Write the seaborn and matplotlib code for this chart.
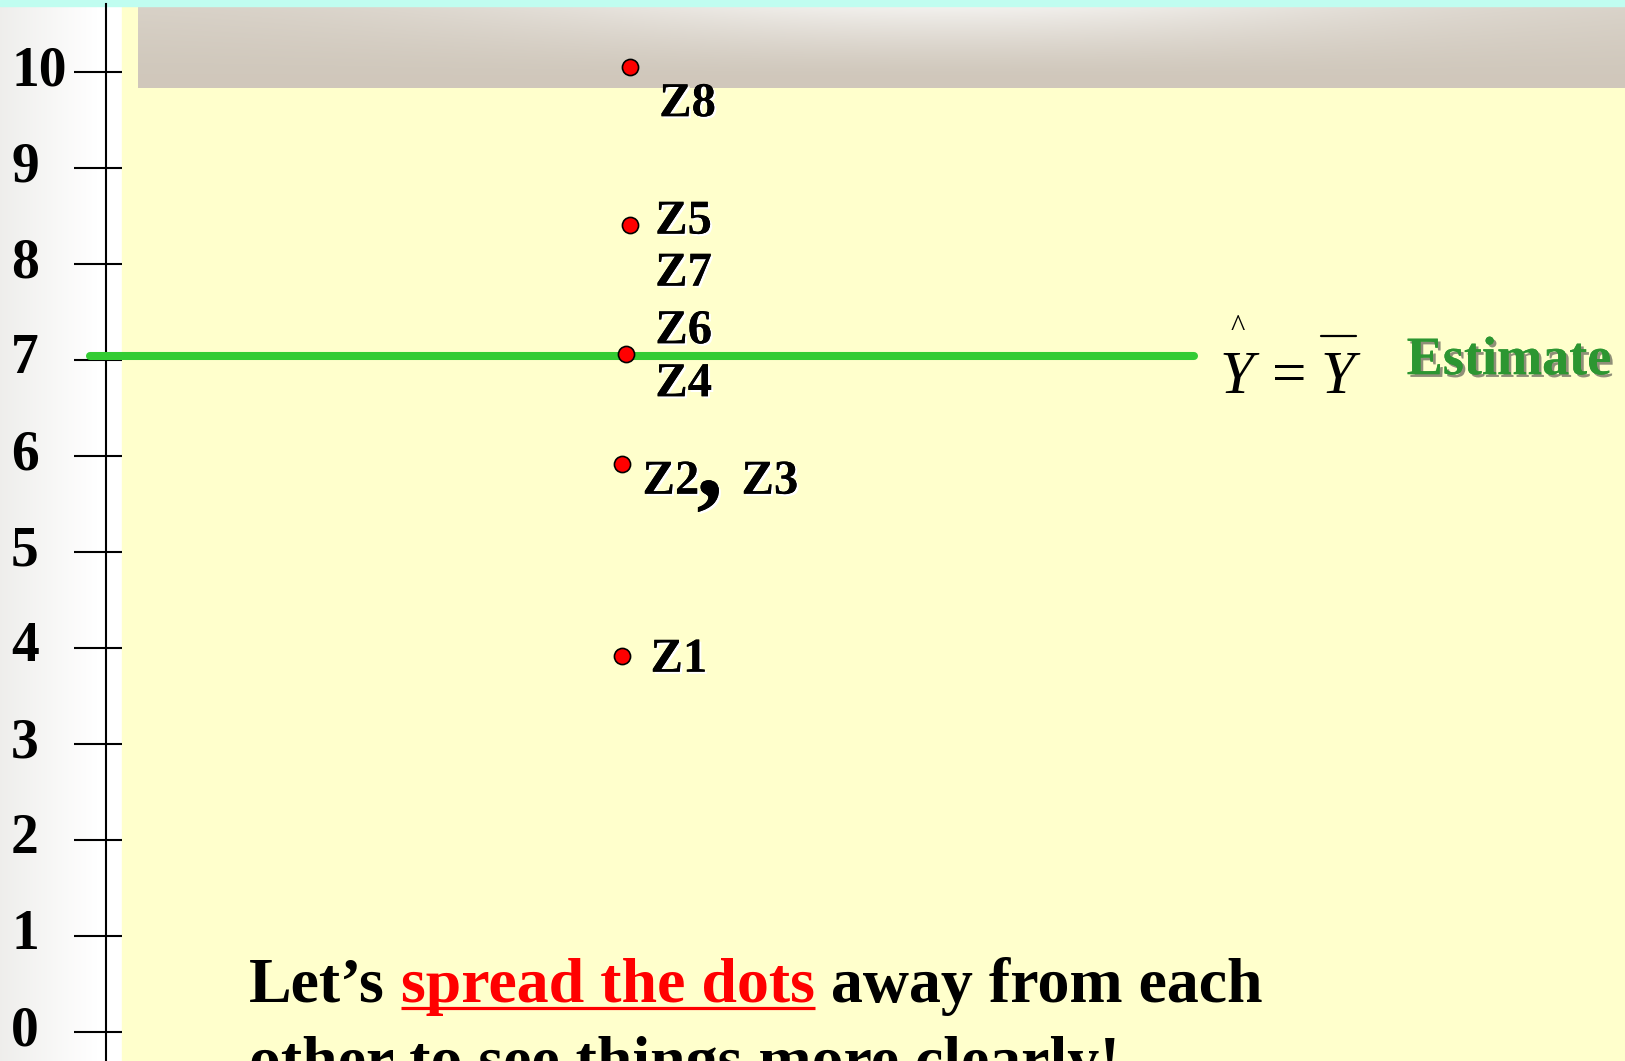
import numpy as np
import matplotlib
matplotlib.use("Agg")
import matplotlib.pyplot as plt
import matplotlib.patheffects as pe
from matplotlib.patches import Rectangle
import seaborn as sns

# ---- data -------------------------------------------------------------
dot_x = [5.37, 5.37, 5.42, 5.46, 5.46]
dot_y = [3.92, 5.92, 7.06, 8.41, 10.05]

label_text = ["Z1", "Z2", "Z3", "Z4", "Z6", "Z5", "Z7", "Z8"]
label_dot = [0, 1, 1, 2, 2, 3, 3, 4]

y_bar = 7.04
line_x = [-0.167, 11.33]

y_ticks = list(range(0, 11))

# ---- layout / style -----------------------------------------------------
W, H = 1625, 1061
PX = 96.0          # pixels per data unit
X0_PX, Y0_PX = 106, 1032   # pixel position of data origin (from top-left)

label_offset = {   # pixel offsets of each label's baseline-left from its dot
    "Z1": (29, -16), "Z2": (21, -30), "Z3": (120, -30),
    "Z4": (29, -42), "Z6": (29, 11), "Z5": (25, -9),
    "Z7": (25, -61), "Z8": (29, -49),
}
SERIF = "Liberation Serif"

sns.set_theme(style="white")
plt.rcParams["font.family"] = [SERIF, "DejaVu Serif"]

fig = plt.figure(figsize=(W / 100, H / 100), dpi=100, facecolor="white")

# ---- slide background ---------------------------------------------------
bg = fig.add_axes([0, 0, 1, 1], zorder=0)
bg.set_xlim(0, W)
bg.set_ylim(H, 0)
bg.axis("off")

# left margin fading from light grey into white
gx = np.linspace(0, 1, 122)
fade = np.clip(gx / 0.8, 0, 1)
left_col = np.array([0.935, 0.932, 0.924])
strip = left_col[None, :] * (1 - fade[:, None]) + fade[:, None]
bg.imshow(strip[None, :, :], extent=(0, 122, H, 6), aspect="auto",
          interpolation="bilinear", zorder=0)

# pale yellow panel
bg.add_patch(Rectangle((122, 6), W - 122, H - 6, color="#ffffcc", zorder=1))

# title band with a soft highlight near the top middle
bx = np.linspace(138, W, 400)
by = np.linspace(6, 88, 60)
fx = np.exp(-((bx - 950) / 450) ** 2)
gy = np.clip(1 - (by - 6) / 70, 0, 1) ** 1.3
base = np.array([0.816, 0.784, 0.737])
light = np.array([0.952, 0.945, 0.933])
amt = (0.2 + 0.8 * fx)[None, :] * gy[:, None]
band = base[None, None, :] * (1 - amt[..., None]) + light[None, None, :] * amt[..., None]
bg.imshow(band, extent=(138, W, 88, 6), aspect="auto",
          interpolation="bilinear", zorder=2)

# thin cyan strip along the top
bg.add_patch(Rectangle((0, 0), W, 6, color="#c0fdf0", zorder=3))

# ---- main axes ----------------------------------------------------------
ax = fig.add_axes([0, 0, 1, 1], zorder=1)
ax.patch.set_alpha(0)
ax.set_xlim(-X0_PX / PX, (W - X0_PX) / PX)
ax.set_ylim(-(H - Y0_PX) / PX, Y0_PX / PX)

for side in ("top", "right", "bottom"):
    ax.spines[side].set_visible(False)
ax.spines["left"].set_position(("data", 0))
ax.spines["left"].set_bounds(-(H - Y0_PX) / PX, (Y0_PX - 4) / PX)
ax.spines["left"].set_linewidth(1.5)
ax.spines["left"].set_color("black")

ax.set_xticks([])
ax.set_yticks(y_ticks)
ax.tick_params(axis="y", length=0, labelleft=False)
ax.hlines(y_ticks, -32 / PX, 16 / PX, color="black", linewidth=1.5, zorder=3)
# left-aligned bold tick numbers
for t in y_ticks:
    ax.annotate(str(t), (0, t), xytext=(-95, -13), textcoords="offset pixels",
                fontsize=40, fontweight="bold", family=SERIF, ha="left",
                va="baseline", color="black", annotation_clip=False)

# mean (estimate) line
sns.lineplot(x=line_x, y=[y_bar, y_bar], color="#33cc33", linewidth=5.8,
             ax=ax, zorder=4)

# observations
sns.scatterplot(x=dot_x, y=dot_y, s=135, color="red", edgecolor="black",
                linewidth=1.2, ax=ax, zorder=6, legend=False)

white_shadow = [pe.withSimplePatchShadow(offset=(1.5, -1.5),
                                         shadow_rgbFace="white", alpha=1.0),
                pe.Normal()]
for lab, di in zip(label_text, label_dot):
    dx, dy = label_offset[lab]
    ax.annotate(lab, (dot_x[di], dot_y[di]), xytext=(dx, dy),
                textcoords="offset pixels", fontsize=35, fontweight="bold",
                family=SERIF, ha="left", va="baseline", color="black",
                path_effects=white_shadow, zorder=7)
# the separating comma between Z2 and Z3
ax.annotate(",", (dot_x[1], dot_y[1]), xytext=(75, -32),
            textcoords="offset pixels", fontsize=76, fontweight="bold",
            family=SERIF, ha="left", va="baseline", color="black",
            path_effects=white_shadow, zorder=7)

# estimator formula  Y-hat = Y-bar
end = (line_x[1], y_bar)
ax.annotate("Y", end, xytext=(26, -37), textcoords="offset pixels",
            fontsize=44, style="italic", family=SERIF, ha="left",
            va="baseline", color="black")
ax.annotate("^", end, xytext=(44, 20), textcoords="offset pixels",
            fontsize=22, family=SERIF, ha="center", va="baseline",
            color="black")
ax.annotate("=", end, xytext=(78, -37), textcoords="offset pixels",
            fontsize=44, family=SERIF, ha="left", va="baseline",
            color="black")
ax.annotate("Y", end, xytext=(127, -37), textcoords="offset pixels",
            fontsize=44, style="italic", family=SERIF, ha="left",
            va="baseline", color="black")
bg.plot([1321, 1356], [336, 336], color="black", linewidth=1.6, zorder=5)

ax.annotate("Estimate", end, xytext=(213, -18), textcoords="offset pixels",
            fontsize=39, fontweight="bold", family=SERIF, ha="left",
            va="baseline", color="#2c9631",
            path_effects=[pe.withSimplePatchShadow(offset=(2, -2),
                                                   shadow_rgbFace="#333333",
                                                   alpha=0.55),
                          pe.Normal()],
            zorder=7)

# ---- caption ------------------------------------------------------------
fig.canvas.draw()
renderer = fig.canvas.get_renderer()
cap_size = 46
space = 0.25 * cap_size * 100 / 72
x = 249
pieces = [("Let\u2019s", "black"), ("spread the dots", "red"),
          ("away from each", "black")]
for txt, col in pieces:
    t = bg.text(x, 1002, txt, fontsize=cap_size, fontweight="bold",
                family=SERIF, color=col, ha="left", va="baseline", zorder=8)
    bb = t.get_window_extent(renderer)
    if col == "red":
        bg.plot([bb.x0, bb.x1], [1008, 1008], color="red", linewidth=2.3,
                zorder=8, solid_capstyle="butt")
    x = bb.x1 + space
bg.text(249, 1080, "other to see things more clearly!", fontsize=cap_size,
        fontweight="bold", family=SERIF, color="black", ha="left",
        va="baseline", zorder=8)

fig.savefig("out.png", dpi=100, facecolor=fig.get_facecolor())
